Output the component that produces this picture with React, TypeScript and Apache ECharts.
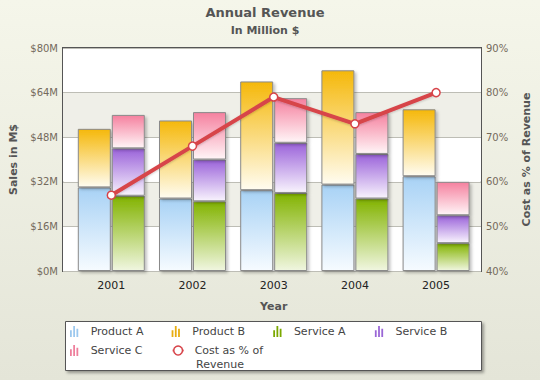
import React, { useEffect, useRef } from "react";
import * as echarts from "echarts";

const years = ["2001", "2002", "2003", "2004", "2005"];
const productA = [30, 26, 29, 31, 34];
const productB = [21, 28, 39, 41, 24];
const serviceA = [27, 25, 28, 26, 10];
const serviceB = [17, 15, 18, 16, 10];
const serviceC = [12, 17, 16, 15, 12];
const costPct = [57, 68, 79, 73, 80];
const lineName = "Cost as % of Revenue";

const FONT = '"DejaVu Sans", Verdana, sans-serif';
const BAR_ICON = "path://M0,6H2.6V16H0Z M4.7,0H7.3V16H4.7Z M9.4,4H12V16H9.4Z";

function grad(top: string, bottom: string) {
  return new echarts.graphic.LinearGradient(0, 0, 0, 1, [
    { offset: 0, color: top },
    { offset: 1, color: bottom },
  ]);
}

export default function App() {
  const ref = useRef<HTMLDivElement>(null);
  useEffect(() => {
    const chart = echarts.init(ref.current!, undefined, { renderer: "svg" });
    const barBase = (name: string, data: number[], stack: string, top: string, bottom: string) => ({
      name,
      type: "bar",
      stack,
      xAxisIndex: 1,
      yAxisIndex: 2,
      barWidth: 33,
      barGap: "3%",
      data,
      itemStyle: {
        color: grad(top, bottom),
        borderColor: "#8a8a8a",
        borderWidth: 1,
        shadowColor: "rgba(0,0,0,0.25)",
        shadowBlur: 3,
        shadowOffsetX: 2,
        shadowOffsetY: 2,
      },
    });
    const legendBar = (name: string, color: string) => ({
      name,
      icon: BAR_ICON,
      itemStyle: { color, borderWidth: 0, shadowBlur: 0, shadowOffsetX: 0, shadowOffsetY: 0 },
    });
    chart.setOption({
      animation: false,
      backgroundColor: grad("#f5f6ea", "#e4e5d8"),
      textStyle: { fontFamily: FONT },
      graphic: [
        {
          type: "text",
          x: 265,
          y: 12,
          style: { text: "Annual Revenue", align: "center", verticalAlign: "middle", font: `bold 13px ${FONT}`, fill: "#555" },
        },
        {
          type: "text",
          x: 265,
          y: 30,
          style: { text: "In Million $", align: "center", verticalAlign: "middle", font: `bold 11px ${FONT}`, fill: "#555" },
        },
        {
          type: "rect",
          z: 1,
          shape: { x: 65.5, y: 321.5, width: 416, height: 49 },
          style: {
            fill: "#fff",
            stroke: "#555",
            lineWidth: 1,
            shadowColor: "rgba(0,0,0,0.35)",
            shadowBlur: 3,
            shadowOffsetX: 2,
            shadowOffsetY: 2,
          },
        },
        {
          type: "text",
          z: 6,
          x: 196,
          y: 364,
          style: { text: "Revenue", align: "left", verticalAlign: "middle", font: `11px ${FONT}`, fill: "#444" },
        },
      ],
      grid: [
        { left: 63, top: 48, width: 419, height: 223, show: true, backgroundColor: "#fff", borderColor: "#555", borderWidth: 2, z: 0 },
        { left: 70.7, top: 48, width: 406, height: 223 },
      ],
      xAxis: [
        { type: "category", gridIndex: 0, data: years, show: false },
        {
          type: "category",
          gridIndex: 1,
          data: years,
          axisLine: { show: false },
          axisTick: { show: false },
          axisLabel: { color: "#222", fontSize: 11, margin: 9 },
          name: "Year",
          nameLocation: "middle",
          nameGap: 30,
          nameTextStyle: { color: "#555", fontWeight: "bold", fontSize: 11 },
        },
      ],
      yAxis: [
        {
          type: "value",
          gridIndex: 0,
          min: 0,
          max: 80,
          interval: 16,
          position: "left",
          axisLine: { show: false },
          axisTick: { show: false },
          axisLabel: { color: "#746a5c", fontSize: 10, margin: 5, formatter: (v: number) => "$" + v + "M" },
          splitLine: { lineStyle: { color: "#bdbdb5", width: 1 } },
          splitArea: { show: true, areaStyle: { color: ["#ffffff", "#efefe8"] } },
          name: "Sales in M$",
          nameLocation: "middle",
          nameRotate: 90,
          nameGap: 41,
          nameTextStyle: { color: "#555", fontWeight: "bold", fontSize: 11 },
        },
        {
          type: "value",
          gridIndex: 0,
          min: 40,
          max: 90,
          interval: 10,
          position: "right",
          axisLine: { show: false },
          axisTick: { show: false },
          splitLine: { show: false },
          axisLabel: { color: "#746a5c", fontSize: 10, margin: 5, formatter: (v: number) => v + "%" },
          name: lineName,
          nameLocation: "middle",
          nameRotate: 90,
          nameGap: 40,
          nameTextStyle: { color: "#555", fontWeight: "bold", fontSize: 11 },
        },
        { type: "value", gridIndex: 1, min: 0, max: 80, show: false },
        { type: "value", gridIndex: 1, min: 40, max: 90, show: false },
      ],
      legend: {
        z: 5,
        left: 70,
        top: 324,
        width: 416,
        orient: "horizontal",
        itemWidth: 11,
        itemHeight: 11,
        itemGap: 4,
        padding: 0,
        formatter: (n: string) => (n === lineName ? "Cost as % of" : n),
        textStyle: { color: "#444", fontSize: 11, width: 77, overflow: "truncate", padding: [0, 0, 0, 6], lineHeight: 15 },
        data: [
          legendBar("Product A", "#9cc8ee"),
          legendBar("Product B", "#e8ad10"),
          legendBar("Service A", "#7ba800"),
          legendBar("Service B", "#9a66d6"),
          legendBar("Service C", "#ee7f9c"),
          {
            name: lineName,
            lineStyle: { width: 2 },
            itemStyle: { borderWidth: 1.5 },
          },
        ],
      },
      series: [
        barBase("Product A", productA, "products", "#a8d2f5", "#f6fbff"),
        barBase("Product B", productB, "products", "#f5b80a", "#fffcf0"),
        barBase("Service A", serviceA, "services", "#82b300", "#f0f6e0"),
        barBase("Service B", serviceB, "services", "#9b63da", "#f8f3fd"),
        barBase("Service C", serviceC, "services", "#f5819f", "#fff5f7"),
        {
          name: lineName,
          type: "line",
          xAxisIndex: 1,
          yAxisIndex: 3,
          data: costPct,
          z: 10,
          symbol: "circle",
          symbolSize: 8,
          lineStyle: { color: "#d7444a", width: 4, shadowColor: "rgba(0,0,0,0.2)", shadowBlur: 2, shadowOffsetY: 1 },
          itemStyle: { color: "#fff", borderColor: "#d7444a", borderWidth: 1.5 },
        },
      ],
    });
    return () => chart.dispose();
  }, []);
  return <div ref={ref} style={{ position: "fixed", left: 0, top: 0, width: 540, height: 380 }} />;
}
